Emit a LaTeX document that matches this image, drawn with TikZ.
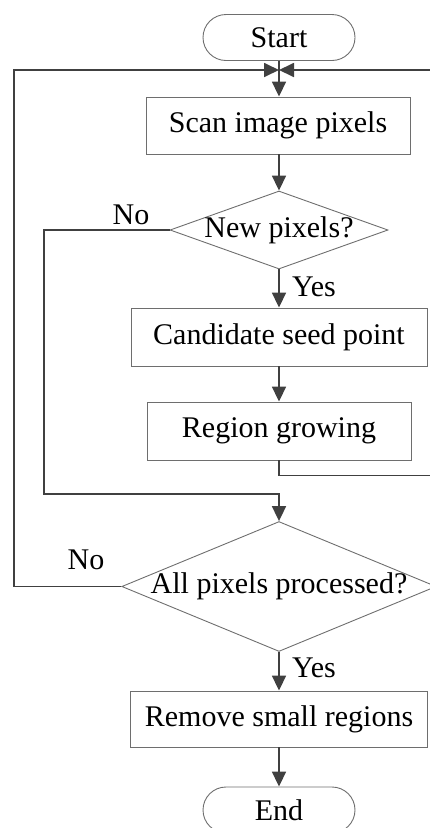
\documentclass[tikz,border=0pt]{standalone}
\usepackage{fontspec}
\setmainfont{Liberation Serif}
\usetikzlibrary{arrows.meta}
\usetikzlibrary{shapes.geometric}

\definecolor{linegray}{HTML}{404040}
\definecolor{boxgray}{HTML}{6E6E6E}

\tikzset{
	flowline/.style={draw=linegray, line width=1.8pt},
	flowarrow/.style={flowline, -{Triangle[length=15pt,width=14pt]}},
	procbox/.style={draw=boxgray, line width=0.9pt, rectangle, inner sep=0pt},
	termbox/.style={draw=boxgray, line width=0.9pt, rectangle, rounded corners=23pt, minimum width=152pt, minimum height=46pt, inner sep=0pt},
	decbox/.style={draw=boxgray, line width=0.9pt, diamond, inner ysep=0pt, inner xsep=-4pt},
	lbl/.style={inner sep=0pt}
}

\begin{document}
\begin{tikzpicture}[x=1pt, y=-1pt, font=\fontsize{30}{35}\selectfont]
		
		\useasboundingbox (0,0) rectangle (429,828);
		
		\node[termbox] (start) at (279,37.5) {Start};
		\node[procbox, minimum width=264pt, minimum height=57pt] (scan) at (278,125.5) {Scan image pixels};
		\node[decbox, minimum width=218pt, minimum height=78pt, aspect=2.8] (newpx) at (279,230) {New pixels?};
		\node[procbox, minimum width=296pt, minimum height=58pt] (cand) at (279,337) {Candidate seed point};
		\node[procbox, minimum width=264pt, minimum height=58pt] (grow) at (279,431) {Region growing};
		\node[decbox, minimum width=312pt, minimum height=129pt, aspect=2.42] (allpx) at (279,586.5) {All pixels processed?};
		\node[procbox, minimum width=297pt, minimum height=56pt] (remove) at (279,719) {Remove small regions};
		\node[termbox] (finish) at (279,810) {End};
		
		\coordinate (topin) at (279,70);
		\coordinate (loopL) at (14,70);
		\coordinate (loopR) at (445,70);
		\coordinate (noL) at (44,494);
		
		\draw[flowarrow] (start) -- (start |- scan.north);
		\draw[flowarrow] (scan.south -| newpx) -- (newpx);
		\draw[flowarrow] (newpx) -- (cand);
		\draw[flowarrow] (cand) -- (grow);
		\draw[flowarrow] (allpx) -- (remove);
		\draw[flowarrow] (remove) -- (finish);
		
		% loops back to the top
		\draw[flowarrow] (newpx.west) -| (noL) -| (allpx.north);
		\draw[flowarrow] (allpx.west) -| (loopL) -- (topin);
		\draw[flowarrow] (grow.south) -- ++(0,15) -| (loopR) -- (topin);
		
		\node[lbl, anchor=west] (yes1) at (292,287) {Yes};
		\node[lbl] (no1) at (131,215) {No};
		\node[lbl] (no2) at (86,560) {No};
		\node[lbl, anchor=west] (yes2) at (292,668) {Yes};

	\end{tikzpicture}
\end{document}
